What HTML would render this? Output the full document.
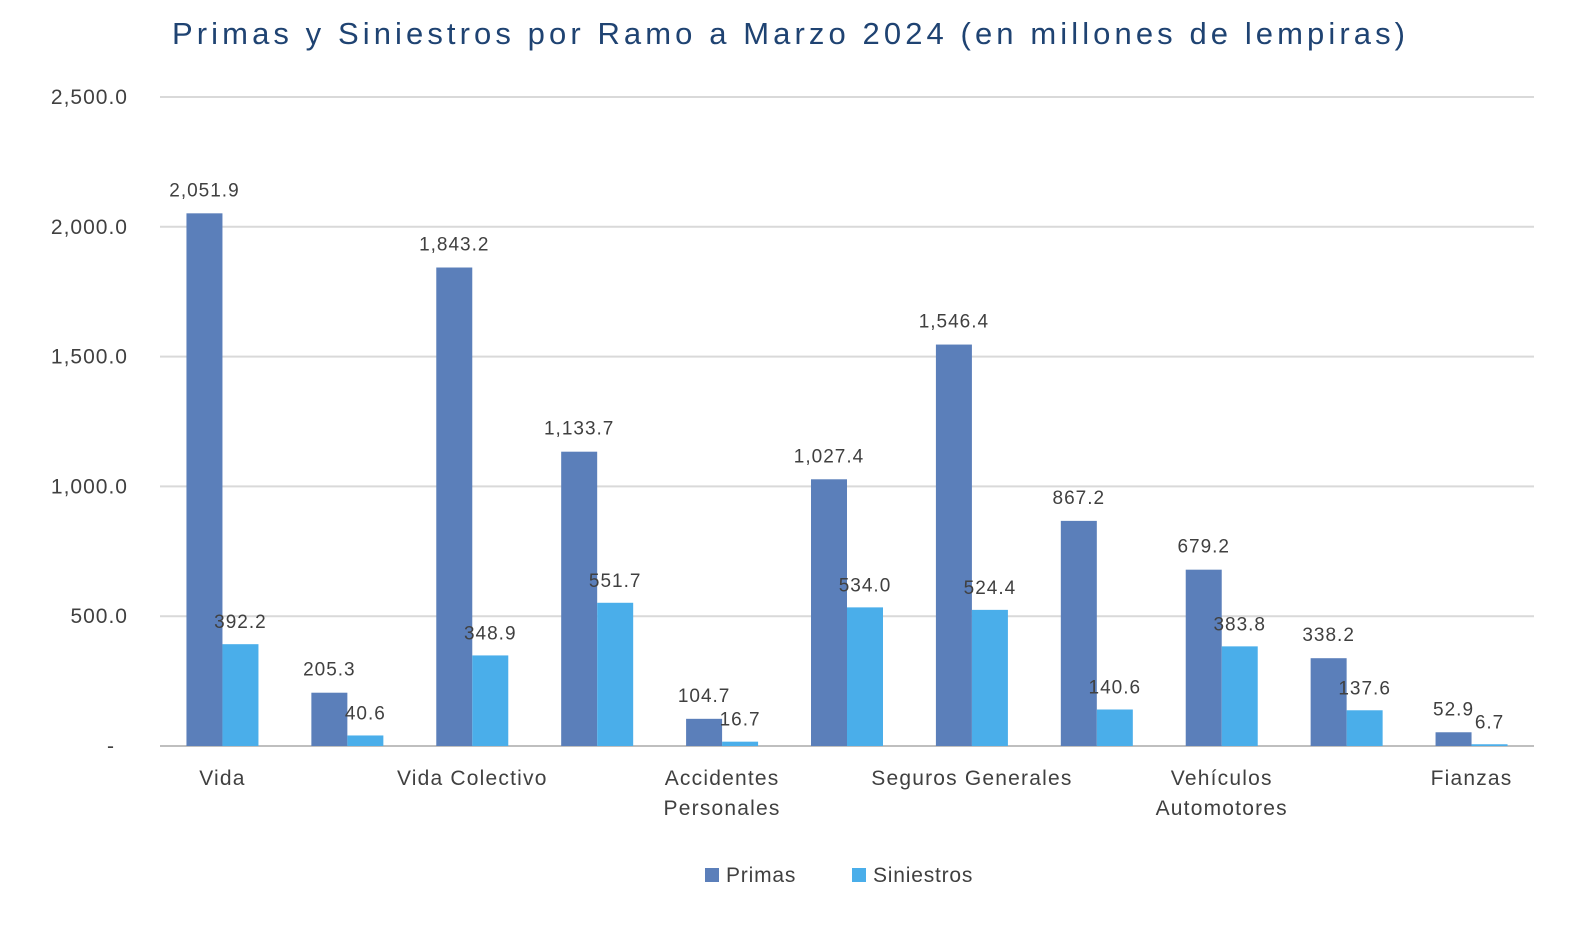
<!DOCTYPE html>
<html><head><meta charset="utf-8">
<style>
body{margin:0;background:#fff;}
svg{display:block;font-family:"Liberation Sans",sans-serif;}
</style></head>
<body>
<svg id="chart" width="1588" height="940" viewBox="0 0 1588 940">
<text x="172" y="44" font-size="31" fill="#1f4372" textLength="1233" lengthAdjust="spacing">Primas y Siniestros por Ramo a Marzo  2024 (en millones de lempiras)</text>
<g id="grid"></g><g id="bars"></g><g id="labels"></g>
<g>
<rect x="705" y="868" width="14" height="14" fill="#5b7fba"/>
<text x="726" y="882" font-size="21" letter-spacing="0.8" fill="#404040">Primas</text>
<rect x="852" y="868" width="14" height="14" fill="#4aaeea"/>
<text x="873" y="882" font-size="21" letter-spacing="0.8" fill="#404040">Siniestros</text>
</g>
</svg>
<script>
const categories=["Vida","","Vida Colectivo","","Accidentes|Personales","","Seguros Generales","","Vehículos|Automotores","","Fianzas"];
const primas=[2051.9,205.3,1843.2,1133.7,104.7,1027.4,1546.4,867.2,679.2,338.2,52.9];
const siniestros=[392.2,40.6,348.9,551.7,16.7,534.0,524.4,140.6,383.8,137.6,6.7];
const yTicks=[0,500,1000,1500,2000,2500];
const yTickLabels=["-","500.0","1,000.0","1,500.0","2,000.0","2,500.0"];
const NS="http://www.w3.org/2000/svg";
const x0=160,x1=1534,yBase=746,yTop=97,yMax=2500;
const y=v=>yBase-(v/yMax)*(yBase-yTop);
const band=(x1-x0)/primas.length;
const cx=i=>x0+band*(i+0.5);
const bw=36;
const fmt=v=>v.toLocaleString("en-US",{minimumFractionDigits:1,maximumFractionDigits:1});
function mk(tag,attrs,parent){const e=document.createElementNS(NS,tag);for(const k in attrs)e.setAttribute(k,attrs[k]);document.getElementById(parent).appendChild(e);return e;}
yTicks.forEach((t,i)=>{
  const l=mk("line",{x1:x0,x2:x1,y1:y(t),y2:y(t),stroke:i===0?"#bfbfbf":"#d9d9d9","stroke-width":2},"grid");
  
  
  const tx=mk("text",{x:i===0?115:128,y:y(t)+7,"text-anchor":"end","font-size":21,"letter-spacing":1,fill:"#404040"},"grid");
  tx.textContent=yTickLabels[i];
  
  
});
categories.forEach((c,i)=>{
  if(!c)return;
  const parts=c.split("|");
  parts.forEach((p,j)=>{
    const t=mk("text",{x:cx(i),y:785+j*30,"text-anchor":"middle","font-size":21,"letter-spacing":1.2,fill:"#404040"},"labels");
    t.textContent=p;
    
    
  });
});
primas.forEach((v,i)=>{
  const r=mk("rect",{x:cx(i)-bw,y:y(v),width:bw,height:yBase-y(v),fill:"#5b7fba"},"bars");
  
  
  const t=mk("text",{x:cx(i)-bw/2,y:y(v)-17,"text-anchor":"middle","font-size":19,"letter-spacing":1,fill:"#404040"},"labels");
  t.textContent=fmt(v);
  
  
});
siniestros.forEach((v,i)=>{
  const r=mk("rect",{x:cx(i),y:y(v),width:bw,height:yBase-y(v),fill:"#4aaeea"},"bars");
  
  
  const t=mk("text",{x:cx(i)+bw/2,y:y(v)-16,"text-anchor":"middle","font-size":19,"letter-spacing":1,fill:"#404040"},"labels");
  t.textContent=fmt(v);
  
  
});
</script>
</body></html>
